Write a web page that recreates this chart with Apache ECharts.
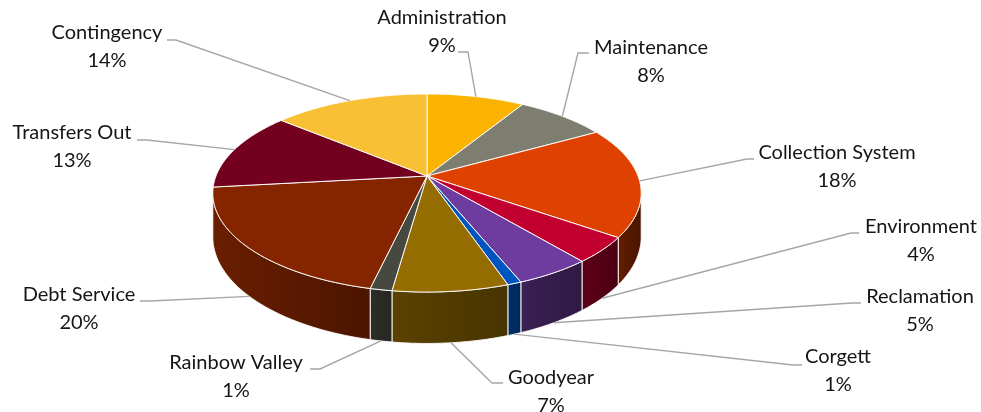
<!DOCTYPE html>
<html>
<head>
<meta charset="utf-8">
<script src="https://cdn.jsdelivr.net/npm/echarts@6/dist/echarts.min.js"></script>
<style>html,body{margin:0;padding:0;background:#fff}#c{width:981px;height:412px}</style>
</head>
<body>
<div id="c"></div>
<script>
// ---- data ----
const categories = ['Administration','Maintenance','Collection System','Environment','Reclamation','Corgett','Goodyear','Rainbow Valley','Debt Service','Transfers Out','Contingency'];
const values = [8.7, 8.1, 18.0, 4.2, 4.9, 0.9, 7.4, 1.4, 19.6, 12.9, 13.9];

// ---- style ----
const colors = ['#F9B300','#7E7E70','#DF4200','#C10030','#6E3C9E','#0054C0','#956C00','#47483F','#852500','#72001E','#FAC035'];
// label layout: [centerX, centerY, elbowX, elbowY, attachX]
const labelLayout = [
  [442, 32, 468, 52, 458],
  [651, 62, 578, 53, 589],
  [837, 167, 747, 159, 754],
  [921, 241, 851, 233, 859],
  [920, 311, 852, 303, 861],
  [838, 371, 793, 365, 802],
  [551, 392, 492, 383, 503],
  [236, 377, 320, 369, 310],
  [79, 309, 150, 301, 140],
  [72, 147, 147, 140, 137],
  [107, 47, 176, 40, 167]
];
// projection parameters for the tilted pie
const P = {cx: 427, cy: 176, A: 211, B: 96.1, a: 0.1717, H: 42.6};

const total = values.reduce((s, v) => s + v, 0);
const starts = [];
let acc = 0;
values.forEach(v => { starts.push(acc / total * 360); acc += v; });
const ends = starts.map((s, i) => s + values[i] / total * 360);
const thL = Math.acos(-P.a) * 180 / Math.PI;   // right silhouette
const thR = 360 - thL;                          // left silhouette

function proj(theta, drop) {
  const t = theta * Math.PI / 180;
  const x = Math.sin(t), z = -Math.cos(t);
  const w = 1 - P.a * z;
  return [P.cx + P.A * x / w, P.cy + P.B * z / w + (drop ? P.H / w : 0)];
}
function shade(hex, f) {
  const n = parseInt(hex.slice(1), 16);
  const r = Math.round(((n >> 16) & 255) * f), g = Math.round(((n >> 8) & 255) * f), b = Math.round((n & 255) * f);
  return 'rgb(' + r + ',' + g + ',' + b + ')';
}
function arc(a0, a1, drop) {
  const pts = [];
  const n = Math.max(2, Math.ceil((a1 - a0) / 0.5));
  for (let k = 0; k <= n; k++) pts.push(proj(a0 + (a1 - a0) * k / n, drop));
  return pts;
}
const sf = th => 0.38 + 0.42 * (th - 100) / 160;

const data = values.map((v, i) => ({name: categories[i], value: [i, v]}));

function renderWall(params) {
  const i = params.dataIndex;
  const a0 = Math.max(starts[i], thL), a1 = Math.min(ends[i], thR);
  if (a1 <= a0) return null;
  const top = arc(a0, a1, false);
  const bot = arc(a0, a1, true).reverse();
  const xr = proj(a0, false)[0], xl = proj(a1, false)[0];
  return {
    type: 'polygon',
    shape: {points: top.concat(bot)},
    style: {
      fill: {type: 'linear', x: xl, y: 0, x2: xr, y2: 0, global: true,
        colorStops: [{offset: 0, color: shade(colors[i], sf(a1))}, {offset: 1, color: shade(colors[i], Math.max(0.3, sf(a0) - 0.06))}]},
      stroke: 'rgba(255,255,255,0.9)', lineWidth: 1
    }
  };
}
function renderTop(params) {
  const i = params.dataIndex;
  const pts = [[P.cx, P.cy]].concat(arc(starts[i], ends[i], false));
  return {
    type: 'polygon',
    shape: {points: pts},
    style: {fill: colors[i], stroke: 'rgba(255,255,255,0.95)', lineWidth: 1}
  };
}
function renderLabel(params, api) {
  const i = params.dataIndex;
  const mid = (starts[i] + ends[i]) / 2;
  const front = mid > thL && mid < thR;
  const anchor = proj(mid, front);
  const L = labelLayout[i];
  const pct = Math.round(api.value(1) / total * 100);
  return {
    type: 'group',
    children: [
      {type: 'polyline', shape: {points: [anchor, [L[2], L[3]], [L[4], L[3]]]},
        style: {stroke: '#A6A6A6', lineWidth: 1.4, fill: null}},
      {type: 'text', style: {text: categories[i] + '\n' + pct + '%', x: L[0], y: L[1],
        align: 'center', verticalAlign: 'middle', fontFamily: 'Lato', fontSize: 20,
        lineHeight: 28, fill: '#151515'}}
    ]
  };
}

const chart = echarts.init(document.getElementById('c'), null, {renderer: 'canvas'});
chart.setOption({
  animation: false,
  backgroundColor: '#ffffff',
  series: [
    {type: 'custom', coordinateSystem: 'none', renderItem: renderWall, data: data, z: 1, silent: true},
    {type: 'custom', coordinateSystem: 'none', renderItem: renderTop, data: data, z: 2, silent: true},
    {type: 'custom', coordinateSystem: 'none', renderItem: renderLabel, data: data, z: 3, silent: true}
  ]
});
</script>
</body>
</html>
